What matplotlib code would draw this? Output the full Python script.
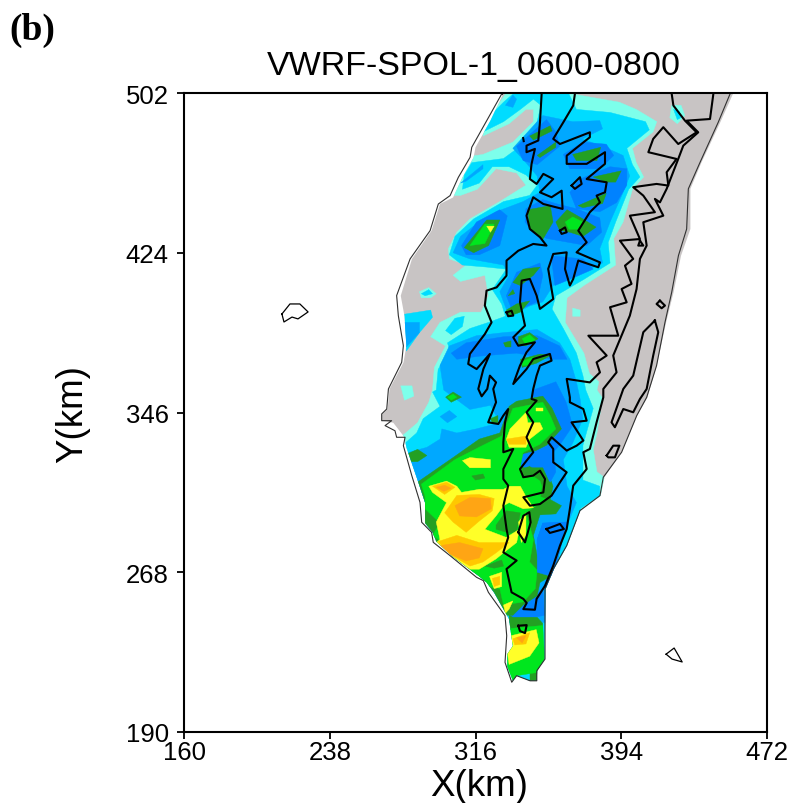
import matplotlib
matplotlib.use('Agg')
import matplotlib.pyplot as plt
from matplotlib.patches import Polygon

# axis ticks
x_ticks = [160, 238, 316, 394, 472]
y_ticks = [190, 268, 346, 424, 502]

# colours of the rain classes, light to heavy
c_land = '#c8c4c4'
c_pale = '#7dffeb'
c_cyan = '#00dcff'
c_mid = '#00a8ff'
c_blue = '#0082ff'
c_dgreen = '#23a023'
c_green = '#00e61e'
c_yellow = '#ffff28'
c_gold = '#ffc800'
c_orange = '#ffa514'

# coastline (km)
coast = [(330,501.5),(322,488.5),(314,475.5),(313.1,470.6),(306.8,460.8),(302.4,451.9),(296.1,447.8),(291.7,434.8),
         (281,421),(273.8,403.1),(274.7,393.3),(277.4,378.6),(276.5,370.5),(269.4,357.5),(268.5,347.7),(265.8,345.3),
         (265.8,342),(271.1,342),(267.6,339.6),(272.9,337.1),(273.8,333.9),(278.3,333.9),(277.4,329.8),(281.9,315.2),
         (286.3,302.1),(287.2,292.4),(292.5,287.5),(293.4,282.6),(302.4,276.1),(316.6,265.5),(320.2,263.9),(322.9,258.2),
         (331.8,246.8),(332.7,237),(331.8,224),(335.4,214.3),(338,217.5),(345.2,215),(348.8,215),(348.8,219.9),
         (353.2,225.6),(353.2,259.8),(357.7,269.6),(364.8,281),(371.9,298.1),(382.6,305.4),(384.4,314.4),(394.2,326.6),
         (402.3,344.5),(407.6,353.4),(412.9,368.9),(417.4,390),(421,404.7),(424.6,422.6),(429,435.6),(429.9,455.2),
         (436.2,468.2),(445.9,487.7),(452.2,501.5)]

# where the field has data, a bit inside the coast in the south west
field_mask = [(331,502),(324,488.5),(316,475.5),(315,470.6),(309,460.8),(304,451),(297,447.8),(292.5,434.8),(282,421),
              (276,403),(278,393),(279,378.6),(277.5,370.5),(270,357.5),(269,347.7),(266,345),(266,342),(272,341),
              (278,333.9),(279,329),(285,313),(289,302),(289,292),(293,287.5),(295,283),(304,275.5),(318,266),(322,263),
              (326,258),(334,245),(335,238),(336,232),(333,228),(333,222),(336,215),(338,217.5),(345,215),(348.8,215),
              (349,220),(353,225.6),(353.5,259.8),(358,269.6),(365,281),(372,298),(383,305.4),(385,314.4),(394.2,326.6),
              (402.5,344.5),(408,353.4),(413,368.9),(418,390),(422,404.7),(426,422.6),(431,435.6),(431,455.2),(437,468.2),
              (447,487.7),(454,502)]

land_box = [(250,205),(470,205),(470,502),(250,502)]

pale_main = [(332,501.5),(368,501.5),(393,497.5),(402,494),(413,488),(411,483),(400,475),(402,468),(406,461),(400,455),
             (395,439),(390,431),(391,418),(374,408),(365,402),(364,390),(374,375),(377,365),(382,361),(381,357),(384,353),
             (381,336),(379,328),(381,317),(384,315),(400,300),(400,205),(250,205),(250,325),(276,334),(285,341),(291,351),
             (293,357),(294,368),(300,378.5),(292,383),(297,390),(308,395),(319,395),(323,403),(321,413),(308,410),(304,413),
             (311,418),(302,421),(301.5,426),(306,434),(313,440.5),(329,449),(343,457),(338,463),(327,465),(317,455),(308,452),
             (303,452),(308,462),(313,471),(320,472),(336,478),(347,488),(347,494),(343,494),(334,487),(320,481),(322,488)]
pale_east = [(421,496),(426,496),(428,491),(424,487),(420,490)]
pale_west = [(286,405),(291,407),(295,404),(292,402),(287,402)]
pale_corner = [(276,359),(282,359),(283,354),(278,352)]
pale_dot = [(368,397),(372,396),(372,393),(368,393)]

cyan_main = [(336,501.5),(366,501.5),(370,494),(388,492.5),(407,488),(409,484),(397,475),(400,467),(404,461),(398,455),
             (391,439),(387,429),(388,419),(374,411),(359,403),(357,396.5),(363,387),(370,375),(373.5,364),(375,357),(379,348),
             (373.5,330),(373.5,313),(382.5,310),(382.5,305.5),(372,299),(400,280),(400,205),(250,205),(250,300),(277,330),
             (284.5,336),(288,343),(297,349),(293,356),(295,357),(296,367),(302,377),(301,380),(313,387),(323,390),(332,393),
             (330,399),(325,406),(332.5,416),(322,417),(309,418),(302,423),(305,432),(315,440.5),(331,449),(345,452),(349,457),
             (343,462),(334,466),(325,466),(318,458),(309,455),(310,462),(314,468),(331,470),(343,478),(349,488),(351,496),
             (347,499),(340,494),(331,488),(320,483),(325.5,492.5),(331,497.5)]
cyan_east = [(422,494),(425,493),(426,490),(424,489)]
cyan_west = [(287,404),(291,406),(293,404),(289,403)]
cyan_oval = [(300,386),(305,392),(310,393),(309,388),(303,384)]
cyan_side = [(278,394),(292,396),(293,392.5),(286,385),(279,376)]

mid_upper = [(336,475),(352,491),(368,488),(382.5,488.5),(384,484.5),(373,479.5),(384,476),(395,471.5),(398.5,461.5),
             (395,453.5),(388,439),(382.5,426),(384,419),(370,413),(357.5,408),(352,400),(345,398),(334,393),(331,400),
             (329,405),(334,413),(331,418),(313,421),(304,424),(308,432),(315,437),(327,444),(341.5,449),(350.5,453.5),
             (349,461.5),(343,468),(338,473)]
mid_lower = [(297,369),(302,378.5),(316.5,383.5),(331,385),(349,386.5),(361,380),(366.5,372),(370,361),(372,352.5),
             (373.5,343),(368,331),(363,323),(365,310),(370,302),(365,291),(359,273),(354,260),(354,243.5),(334,243.5),
             (334,247),(290,290),(284.5,312),(280,326.5),(290,329),(297,333),(298,338),(306,336),(316.5,338),(329,341),
             (324,349.5),(313,347.5),(299,357)]
mid_side = [(278,390),(286,390),(286,385),(279,378)]
mid_nw = [(332,496),(336,501),(338,499),(336,495)]
mid_wedge = [(308,458),(320,467),(320,465),(311,459)]
mid_oval = [(297,344),(302,347),(306,344),(301,341)]

blue_a1 = [(338,476),(354,489),(359,483),(361,476),(349,467),(341.5,469)]
blue_a2 = [(363,472),(373.5,478),(386,477),(390,471.5),(382.5,465),(366.5,465)]
blue_a3 = [(372,460),(388,466),(397,465),(397,457),(391.5,448.5),(382.5,444),(370,445.5),(366.5,453.5)]
blue_a4 = [(343,445.5),(352,450),(359,448),(370,445.5),(382.5,441),(383.5,434),(375.5,427.5),(354,431),(347,434),(342.5,439)]
blue_a5 = [(356.5,422.5),(373.5,421),(379,416),(366.5,411),(358.5,408)]
blue_b = [(308.5,427.5),(316.5,439),(329,445),(333,442),(329,427.5),(318,423),(311,423)]
blue_c = [(332.5,403),(338,414.5),(350.5,419),(352,413),(349,400),(336,395)]
blue_d = [(303,375),(311,380),(331,383),(349,383.5),(361,378.5),(365,372),(356,372),(338,375),(318,373.5),(306,372)]
blue_e = [(347,357),(359,361),(364.5,351),(368,339.5),(361,330),(356,325),(345,325),(345,345)]
blue_g = [(352,292),(365,292.5),(360,274.5),(356.5,266),(349,268),(349,284)]
blue_h = [(342,252),(352,260),(353,247),(334,243.5),(334,247)]
blue_notch = [(331,323),(345,326.5),(357.5,328),(359,317),(356,312),(345,320),(340,318),(331,315)]

dgreen_1 = [(345,481),(356,486),(357,483.5),(347,479)]
dgreen_2 = [(349,471.5),(359,478),(359,475.5),(350.5,470.5)]
dgreen_3 = [(368,472),(383,475.5),(381,469),(370,469)]
dgreen_4 = [(379,461),(394,464),(391,458.5),(386,458.5)]
dgreen_5 = [(371,447),(386,453),(384,448),(373.5,446)]
dgreen_6 = [(344,445),(356,447),(357.5,439),(352,430.5),(345,435.5)]
dgreen_7 = [(359,439),(365,445),(373.5,440.5),(380.5,436.5),(373.5,432),(366.5,434),(361,435)]
dgreen_8 = [(310,426.5),(322,440),(329,440),(323,427.5),(315,424)]
dgreen_9 = [(336,409.5),(341.5,416),(350.5,417),(347,413),(340,408)]
dgreen_10 = [(333.5,403),(336,406),(337,404)]
dgreen_11 = [(332.5,396),(338,399),(345,400.5),(340,395),(334,393)]
dgreen_12 = [(331,380),(335,381),(335,378),(332,378)]
dgreen_13 = [(339,383),(345,385),(349.5,382),(343,378.5),(339,379)]
dgreen_14 = [(340,372),(350.5,374.5),(356.5,374),(348.5,370),(341,368)]
dgreen_15 = [(300,353.5),(304,356),(308.5,353.5),(303,351)]
dgreen_16 = [(324,343),(328,344.5),(328,341),(325,341)]
dgreen_17 = [(280,326),(285,328),(290,325),(285,322),(280,322)]
dgreen_south = [(285,312),(304,324),(318,333),(329,336),(334,349),(338,351.5),(352,354),(357,348),(362,338),(354,330),
                (343,325),(340.5,321),(354,318.5),(357.5,310),(356,303.5),(362,300.5),(359,296.5),(350.5,296),(347,286),
                (349,276),(356,266),(350.5,263),(349,256.5),(341.5,252),(336,247),(331,247),(300,260),(270,310)]
dgreen_tip = [(334,247),(336,246),(349,246),(352,243),(352,240),(334,240)]
dgreen_end = [(345,222),(350,222),(350,214),(345,214)]

green_7 = [(364,439),(368,441.5),(373.5,439),(371,435.5),(366,435.5)]
green_8 = [(313,427.5),(321,438),(326,438),(321,428.5)]
green_13 = [(341,382),(345,384),(348,381.5),(343,379)]
green_14 = [(341,371),(347,373),(345,369),(341,369)]
green_15 = [(301,353.5),(304,355),(306,353.5),(303,352)]
green_south = [(287,311),(305,323),(320,330),(330,334.5),(336,348),(352,351),(356,344.5),(359,338),(350.5,330.5),(341.5,326.5),
               (340,320),(350,314),(352,308.5),(354,304),(343,297),(347,284),(345,273),(349,269),(348,260),(341.5,253.5),
               (331,252),(329,260),(318,262),(313,269.5),(304,279),(293,286),(294,287.5),(297,292),(289,299),(289,305)]
green_tip = [(334,240.5),(352,242),(353,225.5),(348.5,219),(338,217.5),(335,214),(330,225)]

dgreen_oval = [(314,315),(320,316),(321,314),(316,313)]
dgreen_mid = [(327,291),(332.5,298),(340,297),(338,288),(334.5,287),(327,289)]
dgreen_low = [(321,271),(330,274),(331,271),(326,270)]
dgreen_ring = [(341,319),(352,319),(356,311),(354,304),(351,305),(352,312),(347,315),(341,314)]

yellow_top = [(332.5,333),(334.5,338),(343,346),(344,341),(350.5,341),(352,338),(345,333),(343,329),(334,329)]
yellow_dot = [(348.5,348),(352,348),(352,346.5),(348.5,346.5)]
yellow_oval = [(309,322.5),(313,324),(324,323),(324,319),(313,319)]
yellow_big = [(291,310),(300.5,312.5),(306,310),(308.5,307),(318,308.5),(331,308.5),(334,310),(340,310),(343,305),(347,299.5),
              (341.5,299),(334,302),(331,300.5),(327,295.5),(321,289),(332.5,285),(339.5,289),(338,282.5),(331,277.5),
              (327,274.5),(318,269.5),(313,269.5),(304,274.5),(295,282.5),(297,284),(295,292.5),(300.5,302),(293,307)]
yellow_in = [(339,292.5),(343,297),(343,286),(340.5,282.5)]
yellow_low = [(323.5,266),(330,268),(330,261),(326,260)]
yellow_tip = [(335,237),(348.5,240),(350,233.5),(345,227),(334,223),(333,229),(336,232)]
yellow_spit = [(331,252),(336,254),(334,250),(332,248)]
yellow_n = [(322,437),(326,437),(324,434)]

gold_top = [(332.5,333),(343,334.5),(343,330.5),(334,330.5)]
gold_big = [(299.5,297),(306,305.5),(318,306),(326,304),(325,298),(318,293),(311,287.5),(304,292.5)]
gold_nw = [(293,310),(300.5,312),(305,309.5),(299.5,306)]
gold_sw = [(296,283),(306,286),(318,282.5),(334,282.5),(327,277.5),(320,273),(313,271),(302,277)]
gold_low = [(325,265),(329,266),(329,262),(326,261)]
gold_tip = [(336,235.5),(345,238.5),(343,233),(337,232.5)]

orange_big = [(305,300.5),(313,304.5),(324,304),(324.5,299),(316.5,295),(307.5,295.5)]
orange_nw = [(295,309.5),(299.5,310.5),(303,309),(299,307.5)]
orange_sw = [(297,281),(307.5,282.5),(320,279.5),(318,275),(311,273.5),(302,277)]
orange_tip = [(338,236),(343,237),(341,233.5)]

# terrain contours (km)
contour_outer = [(351.4,501.6),(350.5,487.7),(349.6,478.8),(343.3,476.3),(343.3,473.1),(347.8,474.7),(346,467.4),(345.1,460),
                 (348.7,457.6),(352.3,462.5),(357.6,460),(350.5,453.5),(356.7,451.1),(362.1,454.3),(362.6,445.4),(352.3,447.8),
                 (346.9,451.1),(343.3,442.1),(345.1,435.6),(350.5,431.6),(354,427.5),(346.9,428.3),(338.9,425),(332.6,420.2),
                 (332.6,412.8),(327.3,407.1),(321.9,405.5),(321,398.2),(324.6,390),(321,384.3),(313,374.6),(312.1,369.7),
                 (316.6,367.2),(323.7,374.6),(320.2,367.2),(317.5,357.5),(319.3,353.9),(322.3,357.5),(323.7,364),(327,360.7),
                 (325.5,357.5),(327,351),(322.8,341.2),(328.2,340.4),(330.9,344.5),(333.5,347.7),(331.8,341.2),(330.9,331.5),
                 (330.9,326.6),(336.2,328.2),(330.9,318.4),(330.9,313.5),(333.5,310.3),(330.9,300.5),(332.6,289.1),(333.5,285),
                 (330.9,277.7),(338,273.7),(332.6,269.6),(335.3,258.2),(341.6,255),(343.4,253),(341.6,250),(347.8,249.7),
                 (348.7,255),(353.2,261.4),(357.6,271.2),(361.2,281),(364.8,289.1),(366.5,298.9),(368.3,310.3),(375.5,318.4),
                 (373.7,326.6),(377.2,328.2),(380.8,341.2),(384.4,353.4),(384.4,357.5),(391.5,365.6),(389.7,373.8),(398.6,393.3),
                 (402.2,406.3),(404,421),(407.6,427.5),(405.8,438.9),(416.5,442.1),(412,450.3),(414.7,448.6),(418.3,455.2),
                 (424.5,469.8),(427.2,476.3),(435.2,482.8),(429,488.5),(441.5,489.3),(443.3,501.6)]
contour_mid = [(421,501.6),(421.9,495.9),(428.1,488.5),(434.3,482.8),(424.5,477.1),(416.5,485.3),(411.1,479.6),(408.5,473.1),
               (423.6,469.8),(418.3,463.3),(419.2,456.8),(412.9,457.6),(400.4,456),(405.8,451.9),(412,443.8),(398.6,442.1),
               (404,430.7),(393.3,429.9),(400.4,421),(396,417.7),(399.5,408.8),(394.2,406.3),(396.9,399.8),(388,397.4),
               (392.4,383.5),(376.4,383.5),(386.2,373.8),(380.8,370.5),(382.6,365.6),(377.2,360.7),(364.8,362.4),(366.5,353.4),
               (366.5,351),(373.7,347.7),(375.5,342),(367.4,341.2),(373.7,332.3),(370.1,329.8),(364.8,327.4),(356.7,333.9),
               (354.9,331.5),(357.6,328.2),(357.6,321.7),(364.8,316.8),(361.2,311.9),(356.7,305.4),(350.5,301.3),(345.1,300.5),
               (341.6,304.6),(352.3,307),(353.2,313.5),(350.5,317.6),(346.9,315.2),(341.6,314.4),(339.8,318.4),(346.9,326.6),
               (343.3,333.9),(346.9,341.2),(343.3,346.1),(348.7,351.8),(346,352.6),(346.9,357.5),(348.7,364),(350.5,368.9),
               (356.7,371.3),(355.8,374.6),(346.9,372.1),(343.3,367.2),(336.2,359.9),(339.8,368.9),(343.3,375.4),(347.8,380.3),
               (338.9,378.6),(336.2,382.7),(342.5,388.4),(339.8,399.8),(340.7,410.4),(345.1,411.2),(348.7,403.1),(350.5,396.6),
               (357.6,401.4),(354.9,416.1),(357.6,423.4),(364.8,424.2),(363.9,416.1),(366.5,408),(368.3,411.2),(371,420.2),
               (381.7,416.9),(382.6,419.3),(370.1,424.2),(375.5,429.1),(371,434.8),(377.2,443.8),(382.6,448.6),(380.8,451.9),
               (385.3,453.5),(386.2,458.4),(375.5,460),(385.3,467.4),(385.3,473.1),(375.5,467.4),(364.8,467.4),(364.8,471.4),
               (377.2,480.4),(377.2,482.8),(361.2,477.1),(357.6,479.6),(363,487.7),(368.3,495.9),(369.2,501.6)]
contour_ridge = [(412,390.9),(413.8,385.2),(411.1,373.8),(407.6,357.5),(404,352.6),(400.4,346.1),(395.1,347.7),(390.6,338.8),
                 (388.8,341.2),(395.1,357.5),(400.4,364),(405.8,385.2),(412,390.9)]
loops = [[(367.4,456.8),(371.9,460.9),(372.8,457.6),(369.2,455.2),(367.4,456.8)],
         [(414.7,400.6),(417.4,398.2),(415.6,396.9),(412.9,399),(414.7,400.6)],
         [(361.2,434.8),(363.9,436.4),(364.8,434),(362.1,433.2),(361.2,434.8)],
         [(404,429.9),(405.8,427.5),(403.1,427.5),(404,429.9)],
         [(332.6,394.9),(335.3,395.7),(336.2,393.3),(333.5,393),(332.6,394.9)],
         [(386.2,325),(389.7,329.8),(393,329.8),(390.6,324.1),(387,324.1),(386.2,325)],
         [(338.9,287.5),(341.6,295.6),(344.8,297.3),(345.5,292.4),(342.5,282.6),(338.9,287.5)],
         [(354,289.1),(361.2,291.6),(363.3,289.1),(355.8,287.2),(354,289.1)],
         [(338.9,241.9),(343.4,242.2),(342.5,238.3),(339.8,239.3),(338.9,241.9)],
         [(341.5,480),(341.8,478.5)]]

# islands
penghu = [(212.4,394.1),(216.7,399),(222,399),(226.4,395.1),(221,391.7),(217.8,392.6),(213.5,390.2),(212.4,394.1)]
orchid = [(418,228),(422.3,231),(426.6,224.2),(421.2,225.6),(418,228)]

layers = [(c_land, [land_box]),
          (c_pale, [pale_main, pale_east, pale_west, pale_corner, pale_dot]),
          (c_cyan, [cyan_main, cyan_east, cyan_west, cyan_oval, cyan_side]),
          (c_mid, [mid_upper, mid_lower, mid_side, mid_nw, mid_wedge, mid_oval]),
          (c_blue, [blue_a1, blue_a2, blue_a3, blue_a4, blue_a5, blue_b, blue_c, blue_d, blue_e, blue_g, blue_h]),
          (c_dgreen, [dgreen_1, dgreen_2, dgreen_3, dgreen_4, dgreen_5, dgreen_6, dgreen_7, dgreen_8, dgreen_9, dgreen_10,
                      dgreen_11, dgreen_12, dgreen_13, dgreen_14, dgreen_15, dgreen_16, dgreen_17, dgreen_south, dgreen_tip, dgreen_end]),
          (c_blue, [blue_notch]),
          (c_green, [green_7, green_8, green_13, green_14, green_15, green_south, green_tip]),
          (c_blue, [blue_g]),
          (c_dgreen, [dgreen_oval, dgreen_mid, dgreen_low, dgreen_ring]),
          (c_yellow, [yellow_top, yellow_dot, yellow_oval, yellow_big, yellow_in, yellow_low, yellow_tip, yellow_spit, yellow_n]),
          (c_gold, [gold_top, gold_big, gold_nw, gold_sw, gold_low, gold_tip]),
          (c_orange, [orange_big, orange_nw, orange_sw, orange_tip])]

plt.rcParams['font.family'] = ['Liberation Sans', 'DejaVu Sans']

fig = plt.figure(figsize=(7.89, 8.04), dpi=100)
ax = fig.add_axes([184/789, 1-733/804, 583/789, 639/804])

#field, clipped to the land
mask = Polygon(field_mask, closed=True, transform=ax.transData, fc='none', ec='none')
ax.add_patch(mask)
for colour, polys in layers:
    for p in polys:
        patch = Polygon(p, closed=True, fc=colour, ec=colour, lw=0.3)
        ax.add_patch(patch)
        patch.set_clip_path(mask)

#coast is thin, terrain contours are heavy
ax.plot(*zip(*coast), color='#303030', lw=0.8)
ax.plot([coast[0][0], coast[0][0]], [coast[0][1], 502], color='#303030', lw=0.8)
for line in [contour_outer, contour_mid, contour_ridge] + loops:
    ax.plot(*zip(*line), color='black', lw=1.5)
ax.plot(*zip(*penghu), color='black', lw=0.9)
ax.plot(*zip(*orchid), color='black', lw=0.9)

ax.set_xlim(160, 472)
ax.set_ylim(190, 502)
ax.set_xticks(x_ticks)
ax.set_yticks(y_ticks)
ax.tick_params(direction='out', length=5, width=1.3, labelsize=18.5)
ax.tick_params(axis='x', pad=1)
ax.tick_params(axis='y', pad=6)
for s in ax.spines.values():
    s.set_linewidth(1.5)
    s.set_zorder(10)

fig.text(474/789, 1-66/804, 'VWRF-SPOL-1_0600-0800', fontsize=24.5, ha='center', va='center')
fig.text(479/789, 1-787/804, 'X(km)', fontsize=26.5, ha='center', va='center')
fig.text(73/789, 1-414/804, 'Y(km)', fontsize=26.5, ha='center', va='center', rotation=90)
fig.text(9/789, 1-30/804, '(b)', fontsize=27, fontweight='bold', family='Liberation Serif', ha='left', va='center')

fig.savefig('out.png', dpi=100)
